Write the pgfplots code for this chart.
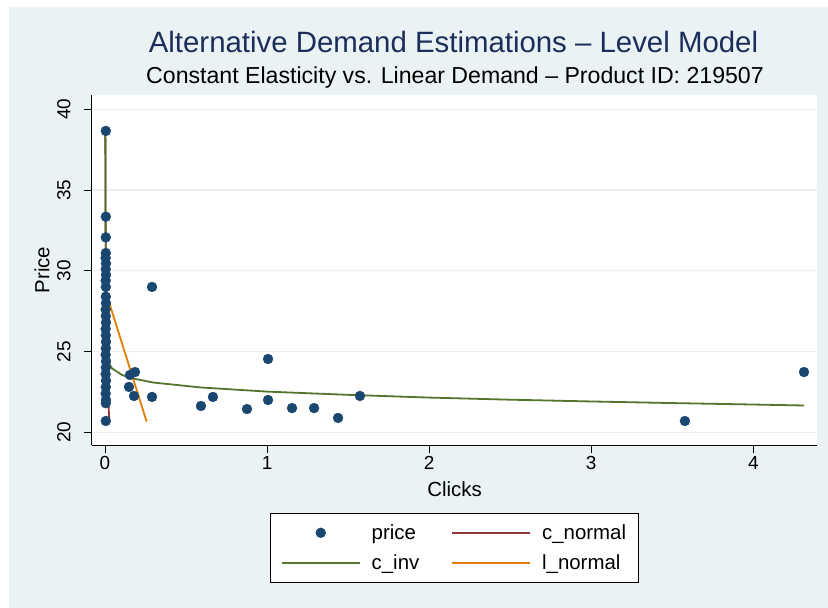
\documentclass[border=0pt]{standalone}
\usepackage{fontspec}
\setmainfont{Liberation Sans}
\usepackage{pgfplots}
\usepackage{pgfplotstable}
\pgfplotsset{compat=1.18}
\definecolor{bgc}{RGB}{234,242,243}
\definecolor{navyc}{RGB}{26,71,111}
\definecolor{maroonc}{RGB}{144,53,59}
\definecolor{forestc}{RGB}{85,117,47}
\definecolor{dkorange}{RGB}{227,126,0}
\definecolor{titlec}{RGB}{28,45,92}
\definecolor{gridc}{RGB}{232,240,242}

\pgfplotsset{
  lineleg/.style={legend image code/.code={\draw[##1] (0bp,0bp) -- (78bp,0bp);}},
  markleg/.style={legend image code/.code={\draw[##1, only marks, mark repeat=2, mark phase=2] plot coordinates {(0bp,0bp) (39bp,0bp) (78bp,0bp)};}},
}

\pgfplotstableread{
clicks price
0.005 38.66
0.005 33.35
0.005 32.07
0.005 31.10
0.004 30.80
0.006 30.45
0.005 30.10
0.006 29.75
0.004 29.40
0.005 29.00
0.005 28.40
0.006 28.00
0.004 27.60
0.005 27.20
0.006 26.80
0.004 26.40
0.005 26.00
0.006 25.60
0.005 25.20
0.004 24.80
0.006 24.40
0.005 24.00
0.004 23.60
0.006 23.20
0.005 22.80
0.004 22.40
0.006 22.00
0.005 21.80
0.005 20.70
0.154 23.55
0.185 23.73
0.148 22.81
0.179 22.25
0.290 22.19
0.290 29.00
0.592 21.63
0.666 22.19
0.876 21.44
1.006 24.54
1.006 22.00
1.154 21.50
1.290 21.50
1.438 20.89
1.573 22.25
3.578 20.70
4.313 23.73
}\pricedata

\pgfplotstableread{
clicks price
0.002 38.66
0.004 32.00
0.007 27.50
0.011 25.20
0.014 23.80
0.018 22.40
0.023 21.40
0.027 20.66
}\cnormal

\pgfplotstableread{
clicks price
0.002 38.66
0.004 32.00
0.006 28.00
0.008 26.00
0.010 25.00
0.014 24.60
0.020 24.35
0.043 23.96
0.105 23.55
0.167 23.34
0.300 23.08
0.586 22.78
1.000 22.52
1.500 22.32
2.000 22.15
2.500 22.02
3.000 21.91
3.500 21.81
4.000 21.72
4.313 21.66
}\cinv

\pgfplotstableread{
clicks price
0.000 28.85
0.257 20.66
}\lnormal

\begin{document}
\begin{tikzpicture}
\fill[white] (0bp,0bp) rectangle (828bp,608bp);
\fill[bgc] (9bp,0bp) rectangle (828bp,601bp);
\node[font=\fontsize{29.5}{34}\selectfont, text=titlec, anchor=base] at (453.5bp,555.5bp) {Alternative Demand Estimations – Level Model};
\node[font=\fontsize{23.2}{28}\selectfont, text=black, anchor=base] at (455bp,524.7bp) {Constant Elasticity vs. Linear Demand – Product ID: 219507};
\begin{axis}[
  at={(91.7bp,163bp)}, anchor=south west,
  scale only axis, width=725.6bp, height=350bp,
  xmin=-0.0821, xmax=4.395, ymin=19.214, ymax=40.885,
  axis x line*=bottom, axis y line*=left,
  axis line style={black, line width=0.9bp},
  xtick={0,1,2,3,4}, ytick={20,25,30,35,40},
  tick align=outside, major tick length=8bp,
  tick style={black, line width=0.9bp},
  minor tick num=0,
  ymajorgrids, major grid style={gridc, line width=1.3bp},
  axis background/.style={fill=white},
  /pgf/number format/assume math mode=true,
  tick label style={font=\fontsize{19}{22}\selectfont},
  yticklabel style={rotate=90, anchor=south, inner ysep=13bp},
  label style={font=\fontsize{20.5}{24}\selectfont},
  xlabel={Clicks}, ylabel={Price},
  xlabel style={at={(axis description cs:0.5,-0.1257)}, anchor=center},
  ylabel style={at={(axis description cs:-0.0685,0.5)}, anchor=center},
  legend style={
    at={(0.5,-0.195)}, anchor=north,
    draw=black, line width=0.8bp, fill=white,
    font=\fontsize{20.5}{24}\selectfont,
    inner xsep=10bp, inner ysep=9bp,
    row sep=10bp,
    /tikz/every odd column/.append style={column sep=9bp},
    /tikz/every even column/.append style={column sep=30bp},
  },
  legend columns=2, legend cell align=left,
  lineleg,
]
\addplot[only marks, mark=*, mark size=5bp, color=navyc, mark options={fill=navyc, draw=navyc, line width=0.3bp}, markleg]
  table[x=clicks, y=price] {\pricedata};
\addlegendentry{price}
\addplot[maroonc, line width=1.8bp] table[x=clicks, y=price] {\cnormal};
\addlegendentry{c\_normal}
\addplot[forestc, line width=1.8bp] table[x=clicks, y=price] {\cinv};
\addlegendentry{c\_inv}
\addplot[dkorange, line width=1.8bp] table[x=clicks, y=price] {\lnormal};
\addlegendentry{l\_normal}
\end{axis}
\end{tikzpicture}
\end{document}
